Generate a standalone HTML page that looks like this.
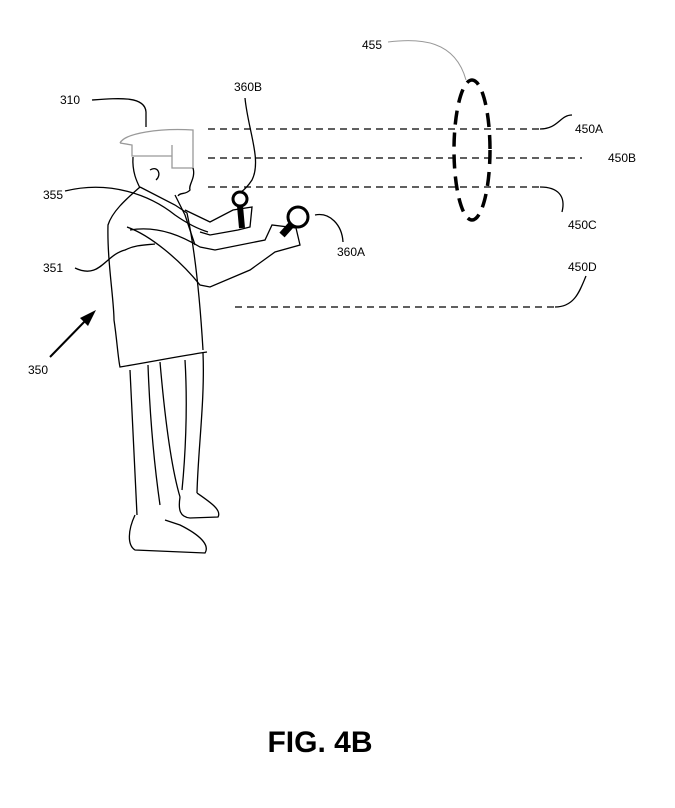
<!DOCTYPE html>
<html><head><style>body{margin:0;background:#fff}svg{display:block}</style></head><body>
<svg width="675" height="808" viewBox="0 0 675 808" xmlns="http://www.w3.org/2000/svg" font-family="Liberation Sans, Arial, sans-serif">
<g fill="none" stroke="#000" stroke-width="1.3">
<g stroke-dasharray="7,5" stroke-width="1.2">
<line x1="208" y1="129" x2="540" y2="129"/>
<line x1="208" y1="158" x2="582" y2="158"/>
<line x1="208" y1="187" x2="540" y2="187"/>
<line x1="235" y1="307" x2="555" y2="307"/>
</g>
<path d="M540 129 C558 129 560 115 572 115"/>
<path d="M540 187 C558 187 566 196 562 212"/>
<path d="M555 307 C575 307 580 290 586 276"/>
<ellipse cx="472" cy="150" rx="18" ry="70" stroke-width="3.5" stroke-dasharray="14,8"/>
<path d="M388 42 C420 38 455 40 466 80" stroke="#999" stroke-width="1"/>
<g stroke="#999">
<path d="M120 143 C125 133 160 128 193 130 L193 168 L172 168 L172 145"/>
<path d="M120 143 L132 145 L132 156 L172 156"/>
</g>
<path d="M133 157 C132 172 137 182 140 188"/>
<path d="M193 168 C196 178 188 185 190 190 C186 195 180 192 178 196"/>
<path d="M150 170 C158 165 162 175 156 180"/>
<path d="M140 187 C125 200 112 212 108 225 C107 260 114 300 114 320 C117 340 118 358 120 367 C150 362 180 356 207 352"/>
<path d="M140 187 L175 205 L187 213 C195 250 200 300 203 350"/>
<path d="M175 195 L185 215 L195 245"/>
<path d="M185 210 L210 222 L233 210 L252 207 L250 227 L238 230 L210 235 L200 232"/>
<path d="M127 227 C150 235 180 260 200 285 L210 287 L250 270 L275 252 L300 245 L296 228 L272 225 L265 240 L215 250 L200 247 C185 238 160 225 130 230"/>
<path d="M130 370 C132 420 135 470 137 515"/>
<path d="M148 365 C150 420 155 470 160 505"/>
<path d="M160 362 C165 420 172 470 180 497"/>
<path d="M203 353 C205 400 198 450 197 493"/>
<path d="M185 360 C188 410 185 460 182 490"/>
<path d="M135 515 C128 530 127 545 135 550 L205 553 C210 545 200 535 180 525 L165 520"/>
<path d="M180 497 C178 510 180 517 190 518 L218 517 C222 510 210 502 197 493"/>
<circle cx="240" cy="199" r="7" stroke-width="3"/>
<path d="M240 206 L242 228" stroke-width="6"/>
<circle cx="298" cy="217" r="10" stroke-width="3"/>
<path d="M291 225 L282 235" stroke-width="7"/>
<path d="M245 98 C248 130 262 160 252 180 C248 186 244 190 241 192"/>
<path d="M92 100 C120 98 145 96 146 112 L146 127"/>
<path d="M65 191 C110 180 150 195 175 215 C185 222 195 228 208 232"/>
<path d="M75 268 C100 280 105 255 125 250 C135 245 145 245 155 244"/>
<path d="M315 215 C330 212 342 225 343 242"/>
<line x1="50" y1="357" x2="88" y2="318" stroke-width="2"/>
</g>
<polygon points="96,310 80,318 88,326" fill="#000"/>
<g font-size="12" fill="#000">
<text x="362" y="49">455</text>
<text x="60" y="104">310</text>
<text x="234" y="91">360B</text>
<text x="575" y="133">450A</text>
<text x="608" y="162">450B</text>
<text x="568" y="229">450C</text>
<text x="568" y="271">450D</text>
<text x="43" y="199">355</text>
<text x="43" y="272">351</text>
<text x="337" y="256">360A</text>
<text x="28" y="374">350</text>
</g>
<text x="320" y="752" font-size="30" font-weight="bold" text-anchor="middle">FIG. 4B</text>
</svg>
</body></html>
